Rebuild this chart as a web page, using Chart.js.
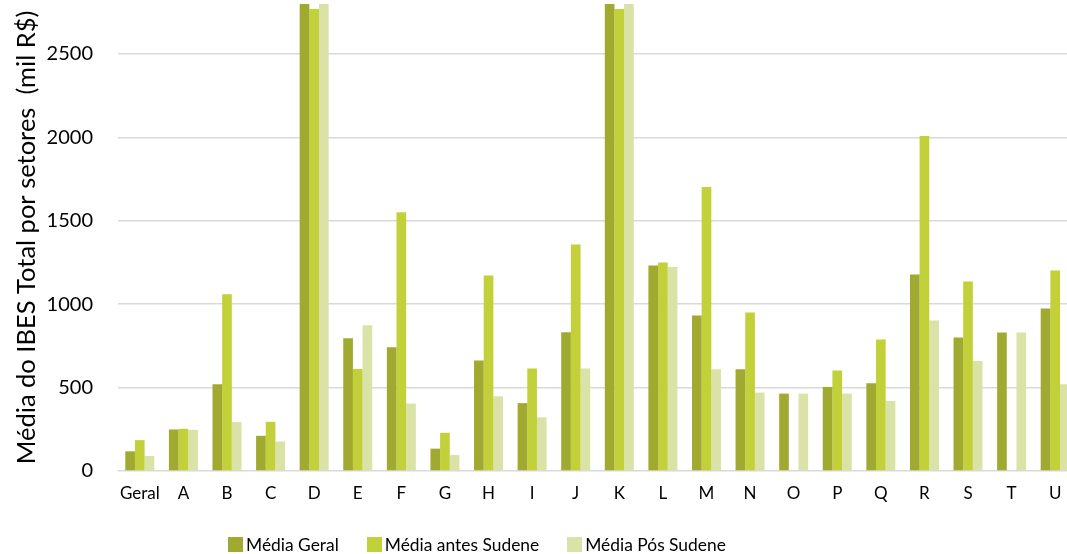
<!DOCTYPE html>
<html>
<head>
<meta charset="utf-8">
<script src="https://cdn.jsdelivr.net/npm/chart.js@4/dist/chart.umd.min.js"></script>
<style>
  html, body { margin: 0; padding: 0; background: #fff; overflow: hidden; }
  #wrap { position: relative; width: 1067px; height: 554px; overflow: hidden; }
  #bars { position: absolute; left: 0; top: 0; }
  #legend { position: absolute; left: 228px; top: 534px; font: 17.4px Lato, sans-serif; color: #000; white-space: nowrap; }
  #legend span.item { display: inline-block; margin-right: 28px; }
  #legend i { display: inline-block; width: 15px; height: 15px; margin-right: 3px; vertical-align: -1px; }
</style>
</head>
<body>
<div id="wrap">
  <canvas id="bars" width="1090" height="554"></canvas>
  <div id="legend"></div>
</div>
<script>
const categories = ['Geral', 'A', 'B', 'C', 'D', 'E', 'F', 'G', 'H', 'I', 'J', 'K', 'L', 'M', 'N', 'O', 'P', 'Q', 'R', 'S', 'T', 'U']
const mediaGeral = [118, 249, 520, 211, 2800, 796, 742, 134, 662, 407, 832, 2800, 1232, 932, 610, 464, 504, 526, 1178, 800, 830, 974]
const mediaAntes = [185, 253, 1060, 295, 2770, 611, 1552, 229, 1172, 614, 1358, 2770, 1250, 1703, 950, null, 602, 788, 2008, 1136, null, 1202]
const mediaPos = [90, 247, 293, 177, 2800, 874, 404, 95, 448, 322, 614, 2800, 1223, 610, 470, 464, 464, 420, 902, 660, 830, 520]
const yTicks = [0, 500, 1000, 1500, 2000, 2500]
const seriesNames = ['Média Geral', 'Média antes Sudene', 'Média Pós Sudene']
const colors = ['#A0AA30', '#C2D03A', '#DAE2A7']
const yTitle = 'Média do IBES Total por setores  (mil R$)'

const font = 'Lato'

function dataset(i, values) {
  return {
    label: seriesNames[i],
    data: values,
    backgroundColor: colors[i],
    borderWidth: 0,
    categoryPercentage: 0.665,
    barPercentage: 1.0
  }
}

new Chart(document.getElementById('bars'), {
  type: 'bar',
  data: {
    labels: categories,
    datasets: [dataset(0, mediaGeral), dataset(1, mediaAntes), dataset(2, mediaPos)]
  },
  options: {
    responsive: false,
    animation: false,
    devicePixelRatio: 1,
    layout: { padding: { top: 4, right: 13, bottom: 43, left: 0 } },
    plugins: { legend: { display: false }, tooltip: { enabled: false } },
    scales: {
      x: {
        grid: { display: false, drawTicks: false },
        border: { display: false },
        ticks: { color: '#000', font: { family: font, size: 17 }, padding: 12, maxRotation: 0, autoSkip: false },
        afterFit: s => { s.height = 40 }
      },
      y: {
        min: 0,
        max: 2800,
        grid: { color: '#D9D9D9', lineWidth: 1.5, drawTicks: false },
        border: { display: false },
        ticks: { color: '#000', font: { family: font, size: 20 }, padding: 25, callback: v => String(v) },
        afterBuildTicks: s => { s.ticks = yTicks.map(v => ({ value: v })) },
        title: { display: true, text: yTitle, color: '#000', font: { family: font, size: 25.5 }, padding: { top: 11 } },
        afterFit: s => {
          s.width = 118
          s.paddingTop = 0
          s.paddingBottom = 0
        }
      }
    }
  }
})

// legend below the plot
const legend = document.getElementById('legend')
seriesNames.forEach((name, i) => {
  const item = document.createElement('span')
  item.className = 'item'
  item.innerHTML = `<i style="background:${colors[i]}"></i>${name}`
  legend.appendChild(item)
})
</script>
</body>
</html>
